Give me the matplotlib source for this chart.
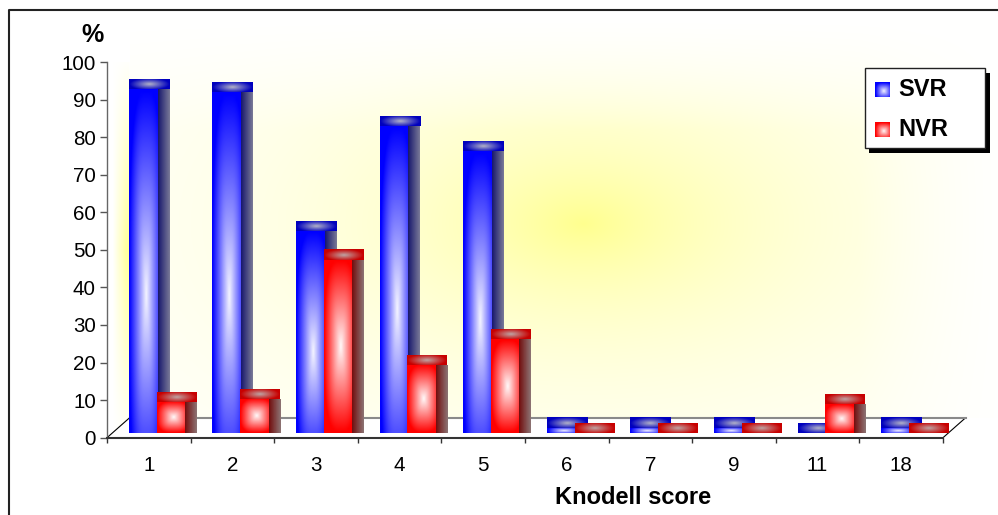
import numpy as np
import matplotlib
matplotlib.use('Agg')
import matplotlib.pyplot as plt
from matplotlib.patches import Polygon, Rectangle

categories = ['1', '2', '3', '4', '5', '6', '7', '9', '11', '18']
svr = [91.7, 90.9, 53.8, 81.8, 75.0, 1.5, 1.5, 1.5, 0.0, 1.5]
nvr = [8.3, 9.1, 46.2, 18.2, 25.0, 0.0, 0.0, 0.0, 7.7, 0.0]
yticks = list(range(0, 101, 10))
series_names = ['SVR', 'NVR']

plt.rcParams['font.family'] = ['Liberation Sans', 'DejaVu Sans']

W, H = 998, 515
fig = plt.figure(figsize=(W / 100, H / 100), dpi=100)

# plot area in pixels: x axis 107..943, y axis 0 -> 437.7, 100 -> 62
ax = fig.add_axes([107 / W, (H - 437.7) / H, 836 / W, (437.7 - 62) / H])
ax.patch.set_visible(False)

n = len(categories)
idx = np.arange(n)
depth_x, depth_y = 0.27, 5.3      # floor depth (oblique 3d look)
side_w, cap_h, base = 0.135, 2.7, 1.2


def rect_grad(edge, centre, cx=0.5, cy=0.5, nx=40, ny=60, p=3):
    u, v = np.meshgrid(np.linspace(0, 1, nx), np.linspace(0, 1, ny))
    tx = np.abs(u - cx) / max(cx, 1 - cx)
    ty = np.abs(v - cy) / max(cy, 1 - cy)
    t = np.clip((tx ** p + ty ** p) ** (1 / p), 0, 1)[..., None]
    return np.array(centre) / 255 * (1 - t) + np.array(edge) / 255 * t


def h_grad(left, right, nx=20):
    u = np.linspace(0, 1, nx)[None, :, None]
    img = np.array(left) / 255 * (1 - u) + np.array(right) / 255 * u
    return np.repeat(img, 4, axis=0)


def paint(patch, img, z):
    x, y, w, h = patch.get_x(), patch.get_y(), patch.get_width(), patch.get_height()
    if h <= 0 or w <= 0:
        return
    im = ax.imshow(img, extent=(x, x + w, y, y + h), origin='lower', aspect='auto',
                   interpolation='bilinear', zorder=z)
    im.set_clip_path(patch)


# back wall: soft yellow glow, fading out towards the edges
xs = np.linspace(depth_x, 10.8, 400)
ys = np.linspace(depth_y, 112, 300)
X, Y = np.meshgrid(xs, ys)
r = np.sqrt(((X - 5.69) / 3.6) ** 2 + ((Y - 57) / 45) ** 2)
win = np.clip((112 - Y) / 30, 0, 1) * np.clip((10.8 - X) / 1.8, 0, 1)
f = np.exp(-1.4 * r) * win
wall = np.ones(X.shape + (3,))
wall[..., 2] -= f * 0.44
im = ax.imshow(wall, extent=(xs[0], xs[-1], ys[0], ys[-1]), origin='lower', aspect='auto',
               interpolation='bilinear', zorder=0.5)
im.set_clip_on(False)

# left wall
xs = np.linspace(0, depth_x, 30)
ys = np.linspace(0, 100 + depth_y, 200)
X, Y = np.meshgrid(xs, ys)
f = np.clip(1 - np.abs(Y - 50) / 52, 0, 1) * np.clip((X / depth_x - 0.25) / 0.6, 0, 1)
lwall = np.ones(X.shape + (3,))
lwall[..., 2] -= f * 0.38
im = ax.imshow(lwall, extent=(0, depth_x, 0, 100 + depth_y), origin='lower', aspect='auto',
               interpolation='bilinear', zorder=0.5)
lw_poly = Polygon([(0, 0), (depth_x, depth_y), (depth_x, 100 + depth_y), (0, 100)],
                  transform=ax.transData)
im.set_clip_path(lw_poly)
im.set_clip_box(None)

# floor edges
ax.plot([0, depth_x], [0, depth_y], color='black', lw=0.8, clip_on=False, zorder=0.7)
ax.plot([n, n + depth_x], [0, depth_y], color='black', lw=0.8, clip_on=False, zorder=0.7)
ax.plot([depth_x, n + depth_x], [depth_y, depth_y], color='#8a8a8a', lw=1.5, clip_on=False, zorder=0.7)

styles = [
    dict(vals=svr, off=0.26, w=0.345,
         front=((0, 0, 255), (245, 245, 255)), side=((25, 25, 110), (120, 120, 150)),
         cap=((0, 0, 190), (180, 180, 200))),
    dict(vals=nvr, off=0.593, w=0.34,
         front=((255, 0, 0), (255, 250, 250)), side=((115, 15, 15), (140, 115, 115)),
         cap=((200, 0, 0), (190, 165, 165))),
]

for k, s in enumerate(styles):
    z = 2 + k
    vals = np.array(s['vals'])
    fronts = ax.bar(idx + s['off'], vals, width=s['w'], bottom=base, align='edge',
                    color='none', linewidth=0, zorder=z)
    sides = ax.bar(idx + s['off'] + s['w'], vals, width=side_w, bottom=base, align='edge',
                   color='none', linewidth=0, zorder=z)
    caps = ax.bar(idx + s['off'], cap_h, width=s['w'] + side_w, bottom=base + vals,
                  align='edge', color='none', linewidth=0, zorder=z)
    cx, cy = (0.6, 0.4) if k == 0 else (0.58, 0.5)
    for p in fronts:
        paint(p, rect_grad(*s['front'], cx=cx, cy=cy), z)
    for p in sides:
        paint(p, h_grad(*s['side']), z)
    for p in caps:
        paint(p, rect_grad(*s['cap'], cx=0.5, cy=0.45, p=2), z + 0.1)

ax.set_xlim(0, n)
ax.set_ylim(0, 100)

ax.set_yticks(yticks)
ax.tick_params(axis='y', length=5, width=1, color='#555555', pad=3, labelsize=14.8)
ax.set_xticks(range(n + 1), labels=[])
ax.tick_params(axis='x', which='major', length=3.6, width=1, color='#333333')
ax.set_xticks(idx + 0.5, labels=categories, minor=True)
ax.tick_params(axis='x', which='minor', length=0, pad=13.5, labelsize=14.8)
for side in ['top', 'right']:
    ax.spines[side].set_visible(False)
ax.spines['left'].set_color('#666666')
ax.spines['left'].set_linewidth(1)
ax.spines['bottom'].set_color('#333333')
ax.spines['bottom'].set_linewidth(1.5)

# overlay in pixel coordinates: frame, titles, legend
ov = fig.add_axes([0, 0, 1, 1])
ov.axis('off')
ov.plot([8.7, 8.7, W + 5], [H + 5, 10, 10], color='#222222', lw=1.5, clip_on=False)
ov.text(92.5, 41.5, '%', ha='center', va='baseline', fontsize=18, fontweight='bold')
ov.text(633, 504.3, 'Knodell score', ha='center', va='baseline', fontsize=17, fontweight='bold')

ov.add_patch(Rectangle((869.5, 73), 120.5, 80, facecolor='black', edgecolor='none'))
ov.add_patch(Rectangle((865, 68), 120, 80, facecolor='white', edgecolor='#222222', lw=1))
for k, (name, s) in enumerate(zip(series_names, styles)):
    top = 82 + 40 * k
    ov.imshow(rect_grad(*s['front'], cx=0.6, cy=0.4, nx=16, ny=16),
              extent=(875, 890, top + 15, top), origin='lower', aspect='auto',
              interpolation='bilinear', zorder=3)
    ov.text(898, top + 14, name, va='baseline', fontsize=17, fontweight='bold', zorder=3)
ov.set_xlim(0, W)
ov.set_ylim(H, 0)

fig.savefig('out.png', dpi=100)
